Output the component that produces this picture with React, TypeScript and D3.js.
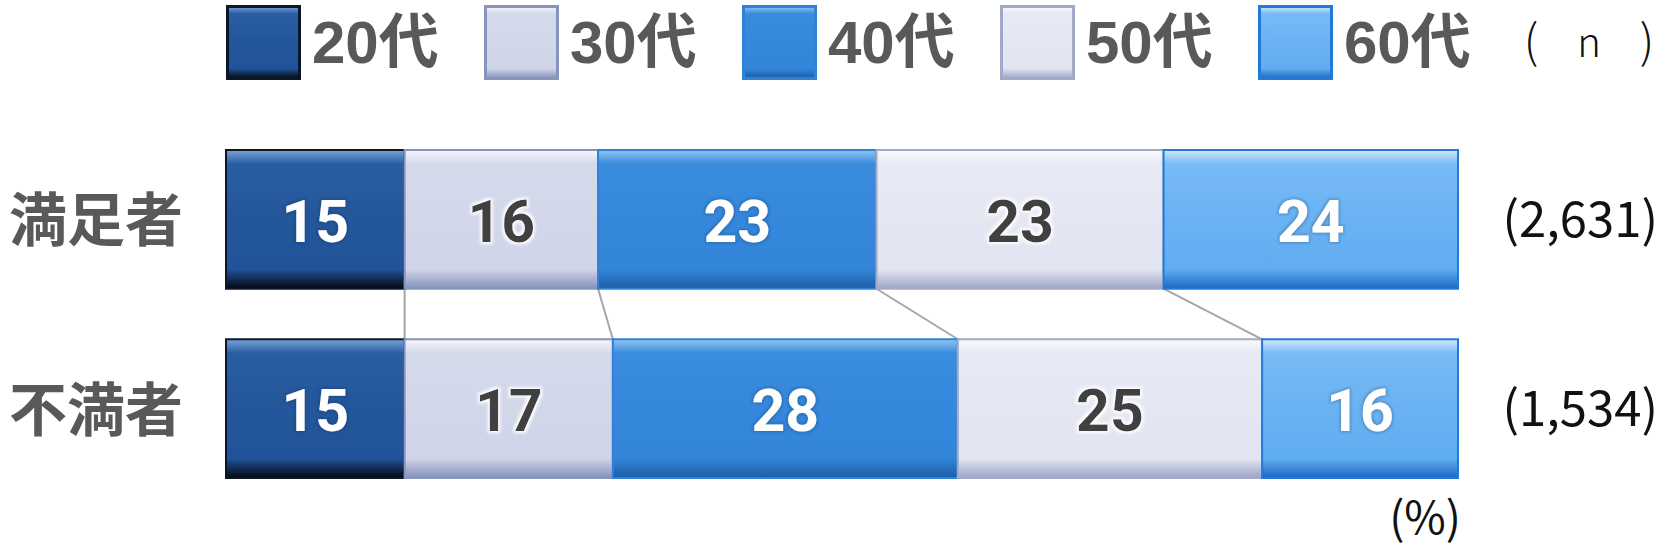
import { useEffect, useRef } from "react";
import * as d3 from "d3";

const categories = ["満足者", "不満者"];
const series = ["20代", "30代", "40代", "50代", "60代"];
const satisfied = [14.5, 15.7, 22.6, 23.3, 23.9];
const dissatisfied = [14.5, 16.9, 28.0, 24.7, 15.9];
const counts = [2631, 1534];

// per-series look: gradient stops, border, label colour
const STYLES = [
  { stops: ["#7aa4d9", "#2a5ea3", "#24579a", "#22539a", "#03070f"], stroke: "#0b1626", text: "#ffffff" },
  { stops: ["#f6f7fb", "#d5daeb", "#d2d7ea", "#cfd4e8", "#8491bb"], stroke: "#8794bd", text: "#404040" },
  { stops: ["#93c4f1", "#3a8cde", "#3588dc", "#3285d9", "#1c5ca6"], stroke: "#2e83d8", text: "#ffffff" },
  { stops: ["#fbfbfd", "#e7e9f4", "#e5e7f3", "#e1e4f1", "#9ca5c6"], stroke: "#a2a9c8", text: "#404040" },
  { stops: ["#d2e9fd", "#78bbf5", "#6bb3f3", "#61adf1", "#1b67c0"], stroke: "#2279d9", text: "#ffffff" },
];

const GREY = "#595959";
const LINK = "#a6a6a6";

export default function App() {
  const ref = useRef<SVGSVGElement>(null);

  useEffect(() => {
    if (!ref.current) return;
    const svg = d3.select(ref.current);
    svg.selectAll("*").remove();

    const W = 1671;
    const H = 550;
    svg.attr("width", W).attr("height", H);

    const x = d3.scaleLinear().domain([0, 100]).range([226, 1458]);
    const y = d3
      .scaleBand<string>()
      .domain(categories)
      .range([150, 478])
      .paddingInner(0.267)
      .paddingOuter(0);

    const rows = categories.map((c, i) => {
      const vals = i === 0 ? satisfied : dissatisfied;
      const o: Record<string, any> = { cat: c, n: counts[i] };
      series.forEach((s, j) => (o[s] = vals[j]));
      return o;
    });
    const stacked = d3.stack<any>().keys(series)(rows);

    // gradients + glow filters
    const defs = svg.append("defs");
    STYLES.forEach((st, i) => {
      const g = defs
        .append("linearGradient")
        .attr("id", `grad${i}`)
        .attr("x1", 0)
        .attr("y1", 0)
        .attr("x2", 0)
        .attr("y2", 1);
      const offs = [0, 0.1, 0.45, 0.86, 1];
      st.stops.forEach((c, k) => g.append("stop").attr("offset", offs[k]).attr("stop-color", c));
    });

    const glow = (id: string, color: string, op: number, r: number) => {
      const f = defs
        .append("filter")
        .attr("id", id)
        .attr("x", "-20%")
        .attr("y", "-20%")
        .attr("width", "140%")
        .attr("height", "140%");
      f.append("feMorphology").attr("in", "SourceAlpha").attr("operator", "dilate").attr("radius", r).attr("result", "d");
      f.append("feGaussianBlur").attr("in", "d").attr("stdDeviation", 1.6).attr("result", "b");
      f.append("feFlood").attr("flood-color", color).attr("flood-opacity", op);
      f.append("feComposite").attr("in2", "b").attr("operator", "in").attr("result", "g");
      const m = f.append("feMerge");
      m.append("feMergeNode").attr("in", "g");
      m.append("feMergeNode").attr("in", "SourceGraphic");
    };
    glow("glowLight", "#ffffff", 0.95, 1.5);
    glow("glowDark", "#1a2a44", 0.3, 0.5);

    // connector lines between boundaries
    const top = stacked.map((s) => s[0][1]).slice(0, -1);
    const bot = stacked.map((s) => s[1][1]).slice(0, -1);
    svg
      .append("g")
      .selectAll("line")
      .data(d3.zip(top, bot))
      .join("line")
      .attr("x1", (d) => x(d[0]))
      .attr("x2", (d) => x(d[1]))
      .attr("y1", y(categories[0])! + y.bandwidth())
      .attr("y2", y(categories[1])!)
      .attr("stroke", LINK)
      .attr("stroke-width", 2);

    // bars
    stacked.forEach((s, i) => {
      const st = STYLES[i];
      const g = svg.append("g");
      g.selectAll("rect")
        .data(s)
        .join("rect")
        .attr("x", (d) => x(d[0]))
        .attr("y", (d) => y(d.data.cat)!)
        .attr("width", (d) => x(d[1]) - x(d[0]))
        .attr("height", y.bandwidth())
        .attr("fill", `url(#grad${i})`)
        .attr("stroke", st.stroke)
        .attr("stroke-width", 2);

      g.selectAll("text")
        .data(s)
        .join("text")
        .attr("x", (d) => (x(d[0]) + x(d[1])) / 2)
        .attr("y", (d) => y(d.data.cat)! + y.bandwidth() / 2)
        .attr("dy", "0.38em")
        .attr("text-anchor", "middle")
        .attr("font-family", "Roboto, 'Noto Sans', sans-serif")
        .attr("font-weight", 700)
        .attr("font-size", 59)
        .attr("fill", st.text)
        .attr("filter", st.text === "#ffffff" ? "url(#glowDark)" : "url(#glowLight)")
        .text((d) => Math.round(d[1] - d[0]));
    });

    // category labels
    svg
      .append("g")
      .selectAll("text")
      .data(categories)
      .join("text")
      .attr("x", 9)
      .attr("y", (d) => y(d)! + y.bandwidth() / 2)
      .attr("dy", "0.38em")
      .attr("font-family", "'Noto Sans CJK JP', sans-serif")
      .attr("font-weight", 700)
      .attr("font-size", 58)
      .attr("fill", GREY)
      .text((d) => d);

    // n labels
    svg
      .append("g")
      .selectAll("text")
      .data(rows)
      .join("text")
      .attr("x", 1658)
      .attr("y", (d) => y(d.cat)! + y.bandwidth() / 2)
      .attr("dy", "0.36em")
      .attr("text-anchor", "end")
      .attr("font-family", "'Noto Sans CJK JP', sans-serif")
      .attr("font-weight", 400)
      .attr("font-size", 49)
      .attr("fill", "#111")
      .text((d) => `(${d3.format(",")(d.n)})`);

    svg
      .append("text")
      .attr("x", 1461)
      .attr("y", 534)
      .attr("text-anchor", "end")
      .attr("font-family", "'Noto Sans CJK JP', sans-serif")
      .attr("font-weight", 400)
      .attr("font-size", 45)
      .attr("fill", "#111")
      .text("(%)");

    // legend
    const lg = svg
      .append("g")
      .selectAll("g")
      .data(series)
      .join("g")
      .attr("transform", (_, i) => `translate(${226 + i * 258},5)`);
    lg.append("rect")
      .attr("x", 1.5)
      .attr("y", 1.5)
      .attr("width", 72)
      .attr("height", 72)
      .attr("fill", (_, i) => `url(#grad${i})`)
      .attr("stroke", (_, i) => STYLES[i].stroke)
      .attr("stroke-width", 3);
    lg.append("text")
      .attr("x", 86)
      .attr("y", 58)
      .attr("font-family", "'Liberation Sans', 'Noto Sans CJK JP', sans-serif")
      .attr("font-weight", 700)
      .attr("font-size", 60)
      .attr("fill", GREY)
      .text((d) => d);

    // ( n )
    const nl = svg
      .append("g")
      .attr("font-family", "'Noto Sans CJK JP', sans-serif")
      .attr("font-weight", 300)
      .attr("fill", "#111")
      .attr("text-anchor", "middle");
    nl.append("text").attr("x", 1531).attr("y", 58).attr("font-size", 46).text("(");
    nl.append("text").attr("x", 1589).attr("y", 57).attr("font-size", 40).text("n");
    nl.append("text").attr("x", 1647).attr("y", 58).attr("font-size", 46).text(")");
  }, []);

  return <svg ref={ref} style={{ position: "absolute", left: 0, top: 0, background: "#fff" }} />;
}
